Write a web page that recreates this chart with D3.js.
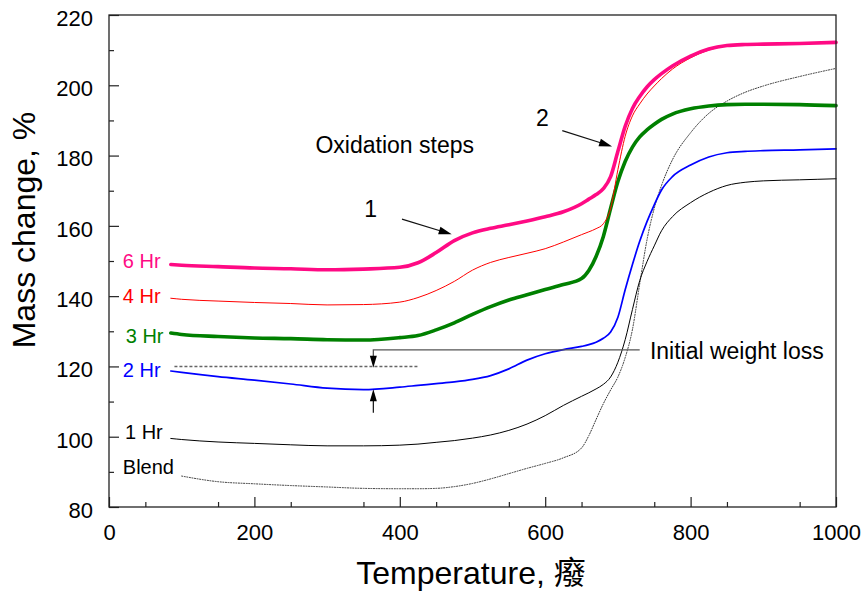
<!DOCTYPE html>
<html>
<head>
<meta charset="utf-8">
<script src="https://cdn.jsdelivr.net/npm/d3@7"></script>
<style>
  html, body { margin: 0; padding: 0; background: #fff; }
  svg { display: block; }
  text { font-family: "Liberation Sans", Arial, "Noto Sans CJK SC", sans-serif; fill: #000; }
</style>
</head>
<body>
<svg id="chart" width="864" height="592"></svg>
<script>
// Temperature grid (°C) shared by every TGA trace
const temperature = [85, 100, 150, 200, 250, 300, 350, 400, 425, 450, 475, 500, 525, 550, 575, 600, 625, 650,
  660, 670, 680, 690, 700, 710, 720, 730, 740, 750, 760, 775, 800, 825, 850, 875, 900, 950, 1000];

// Mass change (%) for each milling time
const hr6 = [149.0, 148.8, 148.4, 148.0, 147.8, 147.5, 147.7, 148.2, 149.5, 152.4, 155.8, 158.0, 159.3, 160.3, 161.4, 162.6, 164.0, 166.3,
  167.6, 168.9, 170.6, 174.0, 181.2, 188.3, 193.4, 196.8, 199.5, 201.6, 203.3, 205.5, 208.3, 210.3, 211.3, 211.6, 211.7, 211.9, 212.2];
const hr4 = [139.4, 139.1, 138.6, 138.2, 137.9, 137.5, 137.6, 138.3, 139.6, 141.6, 144.2, 147.4, 149.6, 151.0, 152.2, 153.5, 155.4, 157.5,
  158.3, 159.2, 160.6, 165.0, 176.0, 185.5, 191.3, 194.7, 197.5, 199.8, 201.9, 204.6, 207.8, 210.0, 211.2, 211.6, 211.8, 212.0, 212.3];
const hr3 = [129.5, 129.1, 128.5, 128.1, 127.9, 127.6, 127.5, 128.2, 128.8, 130.4, 132.4, 134.8, 137.0, 138.9, 140.4, 141.9, 143.3, 145.0,
  147.3, 151.3, 157.0, 165.0, 172.6, 178.3, 182.4, 185.3, 187.3, 188.9, 190.3, 191.8, 193.3, 194.1, 194.5, 194.6, 194.6, 194.5, 194.2];
const hr2 = [118.7, 118.3, 117.1, 116.1, 115.0, 113.8, 113.4, 114.1, 114.6, 115.1, 115.6, 116.3, 117.4, 119.3, 121.8, 123.6, 124.8, 125.7,
  126.2, 126.9, 128.0, 129.8, 134.0, 141.8, 149.0, 155.6, 161.2, 166.0, 170.2, 174.0, 177.3, 179.6, 180.8, 181.2, 181.4, 181.6, 181.9];
const hr1 = [99.5, 99.2, 98.5, 98.1, 97.7, 97.4, 97.4, 97.6, 97.9, 98.4, 98.9, 99.6, 100.5, 101.8, 103.6, 106.0, 108.9, 111.5,
  112.5, 113.6, 114.9, 117.0, 121.2, 127.6, 136.2, 144.4, 149.8, 154.3, 158.6, 162.6, 166.6, 169.5, 171.5, 172.4, 172.8, 173.1, 173.4];
const blend = [null, 88.8, 87.2, 86.6, 86.1, 85.7, 85.3, 85.2, 85.2, 85.3, 85.8, 86.7, 88.0, 89.5, 91.0, 92.4, 94.0, 96.8,
  100.3, 104.9, 109.4, 113.3, 117.0, 122.5, 130.5, 143.5, 156.0, 165.0, 171.5, 178.8, 186.5, 192.0, 195.5, 198.0, 199.8, 202.5, 204.8];

const seriesNames = ["6 Hr", "4 Hr", "3 Hr", "2 Hr", "1 Hr", "Blend"];
const seriesValues = [hr6, hr4, hr3, hr2, hr1, blend];

const xTicks = [0, 200, 400, 600, 800, 1000];
const yTicks = [80, 100, 120, 140, 160, 180, 200, 220];

// Drawing styles, one per trace
const styles = {
  "6 Hr":  { color: "#ff0a84", width: 3.6, dash: null },
  "4 Hr":  { color: "#ff0000", width: 1.0, dash: null },
  "3 Hr":  { color: "#008000", width: 3.6, dash: null },
  "2 Hr":  { color: "#0000ff", width: 1.7, dash: null },
  "1 Hr":  { color: "#000000", width: 1.0, dash: null },
  "Blend": { color: "#333333", width: 1.0, dash: "1,1.6" }
};
// Trace label anchors in data units (temperature, mass change)
const labelAnchors = {
  "6 Hr": [19, 148.0], "4 Hr": [19, 138.05], "3 Hr": [23, 126.75],
  "2 Hr": [19, 116.9], "1 Hr": [22, 99.3], "Blend": [19, 89.3]
};

const svg = d3.select("#chart");
const margin = { left: 109, top: 15, right: 28, bottom: 85 };
const W = 864, H = 592;
const x = d3.scaleLinear().domain([0, 1000]).range([margin.left, W - margin.right]);
const y = d3.scaleLinear().domain([80, 220]).range([H - margin.bottom, margin.top]);

// Traces
const line = d3.line()
  .defined(d => d[1] != null)
  .x(d => x(d[0])).y(d => y(d[1]))
  .curve(d3.curveMonotoneX);

const traceOrder = ["Blend", "1 Hr", "2 Hr", "3 Hr", "4 Hr", "6 Hr"];
traceOrder.forEach(name => {
  const vals = seriesValues[seriesNames.indexOf(name)];
  const st = styles[name];
  svg.append("path")
    .datum(temperature.map((t, i) => [t, vals[i]]))
    .attr("d", line)
    .attr("fill", "none")
    .attr("stroke", st.color)
    .attr("stroke-width", st.width)
    .attr("stroke-linejoin", "round")
    .attr("stroke-linecap", "round")
    .attr("stroke-dasharray", st.dash);
});

// Trace labels
seriesNames.forEach(name => {
  const [lt, lv] = labelAnchors[name];
  svg.append("text")
    .attr("x", x(lt)).attr("y", y(lv))
    .attr("font-size", 20)
    .style("fill", name === "Blend" || name === "1 Hr" ? "#000" : styles[name].color)
    .text(name);
});

// Axes with inward ticks
const fmt = d3.format("d");
const xAxis = svg.append("g").attr("transform", `translate(0,${y(80)})`)
  .call(d3.axisBottom(x).tickValues(xTicks).tickFormat(fmt).tickSize(-10).tickSizeOuter(0));
xAxis.select(".domain").remove();
xAxis.selectAll("text").attr("y", 33).attr("dy", 0).attr("font-size", 22)
  .style("font-family", "'Liberation Sans', Arial, sans-serif");
xAxis.selectAll("line").attr("stroke", "#222").attr("stroke-width", 1.2);

const xMinor = svg.append("g").attr("transform", `translate(0,${y(80)})`)
  .call(d3.axisBottom(x).tickValues(d3.range(50, 1000, 100)).tickSize(-5).tickFormat(""));
xMinor.select(".domain").remove();
xMinor.selectAll("line").attr("stroke", "#222").attr("stroke-width", 1.2);

const yAxis = svg.append("g").attr("transform", `translate(${x(0)},0)`)
  .call(d3.axisLeft(y).tickValues(yTicks).tickFormat(fmt).tickSize(-10).tickSizeOuter(0));
yAxis.select(".domain").remove();
yAxis.selectAll("text").attr("x", -16).attr("dy", "0.47em").attr("font-size", 22)
  .style("font-family", "'Liberation Sans', Arial, sans-serif");
yAxis.selectAll("line").attr("stroke", "#222").attr("stroke-width", 1.2);

const yMinor = svg.append("g").attr("transform", `translate(${x(0)},0)`)
  .call(d3.axisLeft(y).tickValues(d3.range(90, 220, 20)).tickSize(-5).tickFormat(""));
yMinor.select(".domain").remove();
yMinor.selectAll("line").attr("stroke", "#222").attr("stroke-width", 1.2);

// Plot frame
svg.append("rect")
  .attr("x", x(0)).attr("y", y(220))
  .attr("width", x(1000) - x(0)).attr("height", y(80) - y(220))
  .attr("fill", "none").attr("stroke", "#222").attr("stroke-width", 1.3);

// Axis titles
svg.append("text")
  .attr("x", 471).attr("y", 584)
  .attr("text-anchor", "middle").attr("font-size", 32)
  .text("Temperature, 癈");
svg.append("text")
  .attr("transform", `translate(35,230) rotate(-90)`)
  .attr("text-anchor", "middle").attr("font-size", 32)
  .text("Mass change, %");

// Annotations
function arrowHead(x1, y1, x2, y2, len, half) {
  const a = Math.atan2(y2 - y1, x2 - x1);
  const bx = x2 - len * Math.cos(a), by = y2 - len * Math.sin(a);
  const px = -Math.sin(a) * half, py = Math.cos(a) * half;
  svg.append("path")
    .attr("d", `M${x2},${y2}L${bx + px},${by + py}L${bx - px},${by - py}Z`)
    .attr("fill", "#000");
}
function arrow(t1, v1, t2, v2) {
  const [x1, y1, x2, y2] = [x(t1), y(v1), x(t2), y(v2)];
  const a = Math.atan2(y2 - y1, x2 - x1);
  svg.append("line")
    .attr("x1", x1).attr("y1", y1)
    .attr("x2", x2 - 8 * Math.cos(a)).attr("y2", y2 - 8 * Math.sin(a))
    .attr("stroke", "#111").attr("stroke-width", 1.2);
  arrowHead(x1, y1, x2, y2, 13, 4);
}

svg.append("text").attr("x", x(284)).attr("y", y(180.65)).attr("font-size", 23).text("Oxidation steps");
svg.append("text").attr("x", x(360)).attr("y", y(162.5)).attr("text-anchor", "middle").attr("font-size", 23).text("1");
svg.append("text").attr("x", x(596)).attr("y", y(188.4)).attr("text-anchor", "middle").attr("font-size", 23).text("2");
arrow(403, 161.9, 471.4, 157.6);
arrow(623.5, 187.1, 692, 182.6);

// Initial weight loss marker
svg.append("line")
  .attr("x1", x(90)).attr("x2", x(425)).attr("y1", y(120)).attr("y2", y(120))
  .attr("stroke", "#666").attr("stroke-width", 1.5).attr("stroke-dasharray", "3,2");
svg.append("path")
  .attr("d", `M${x(730)},${y(124.7)}H${x(363.6)}V${y(120.8)}`)
  .attr("fill", "none").attr("stroke", "#555").attr("stroke-width", 1.3);
arrowHead(x(363.6), y(124.7), x(363.6), y(119.6), 12, 3.5);
svg.append("line")
  .attr("x1", x(363.6)).attr("x2", x(363.6)).attr("y1", y(106.8)).attr("y2", y(112.5))
  .attr("stroke", "#111").attr("stroke-width", 1.2);
arrowHead(x(363.6), y(106.8), x(363.6), y(113.5), 12, 3.5);
svg.append("text").attr("x", x(744)).attr("y", y(122.0)).attr("font-size", 23).text("Initial weight loss");
</script>
</body>
</html>
